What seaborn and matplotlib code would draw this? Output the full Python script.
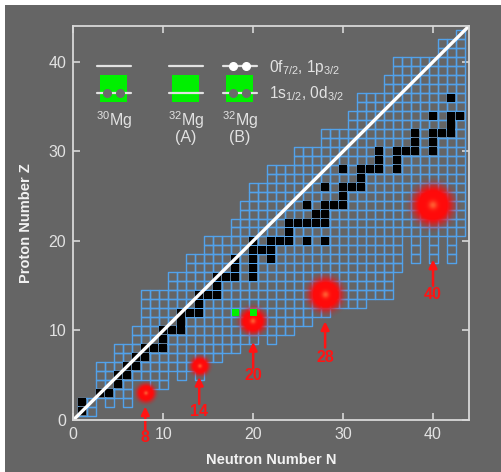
import numpy as np
import matplotlib
matplotlib.use("Agg")
import matplotlib.pyplot as plt
import seaborn as sns
from matplotlib.patches import Rectangle
from matplotlib.collections import PatchCollection

# first neutron number of the known-nuclei band, for Z = 1..43
z_rows = list(range(1, 44))
n_first = [1, 1, 3, 3, 3, 3, 5, 5, 7, 7,
           8, 8, 8, 8, 11, 11, 13, 13, 15, 15,
           18, 18, 19, 19, 20, 20, 22, 22, 25, 25,
           28, 28, 31, 31, 32, 32, 35, 35, 36, 36,
           41, 41, 43]

# lowest proton number in each neutron column, for N = 1..43
n_cols = list(range(1, 44))
z_lowest = [1, 1, 3, 2, 3, 2, 5, 5, 4, 4,
            6, 5, 6, 5, 7, 7, 8, 8, 9, 9,
            10, 9, 10, 10, 11, 11, 12, 12, 13, 13,
            13, 13, 14, 14, 14, 17, 21, 18, 21, 18,
            21, 18, 21]

# stable nuclei (black)
stable_n = [1, 1, 3, 4, 5, 5, 6, 6, 7, 7, 8, 8, 9, 10, 10, 10, 11, 12, 12,
            12, 13, 14, 14, 14, 15, 16, 16, 16, 17, 18, 20, 18, 20, 18, 20, 22,
            20, 21, 22, 20, 22, 23, 24, 26, 28, 24, 24, 25, 26, 27, 28, 27, 28,
            26, 28, 29, 30, 30, 28, 30, 31, 32, 32, 30, 32, 33, 34, 36, 34, 36,
            34, 36, 37, 38, 40, 38, 40, 38, 40, 41, 42, 42, 40, 42, 43, 42]
stable_z = [1, 2, 3, 3, 4, 5, 5, 6, 6, 7, 7, 8, 8, 8, 9, 10, 10, 10, 11,
            12, 12, 12, 13, 14, 14, 14, 15, 16, 16, 16, 16, 17, 17, 18, 18, 18,
            19, 19, 19, 20, 20, 20, 20, 20, 20, 21, 22, 22, 22, 22, 22, 23, 23,
            24, 24, 24, 24, 25, 26, 26, 26, 26, 27, 28, 28, 28, 28, 28, 29, 29,
            30, 30, 30, 30, 30, 31, 31, 32, 32, 32, 32, 33, 34, 34, 34, 36]

# magnesium isotopes 30Mg and 32Mg (green)
mg_n = [18, 20]
mg_z = [12, 12]

# magic neutron numbers with their glow spots
magic = ["8", "14", "20", "28", "40"]
glow_n = [8, 14, 20, 28, 40]
glow_z = [3, 6, 11, 14, 24]
glow_r = [1.4, 1.4, 2.0, 2.6, 3.1]
arrow_tail = [-1.1, 1.8, 5.8, 8.1, 15.0]
arrow_tip = [1.5, 4.8, 8.7, 11.0, 17.9]
label_z = [-1.9, 1.0, 5.0, 7.0, 14.0]

BG = "#656565"
BLUE = "#52a2ea"
LIGHT = "#e2e2e2"
RED = "#ff1414"

sns.set_theme(style="dark")
plt.rcParams["font.family"] = ["Liberation Sans", "DejaVu Sans"]
plt.rcParams["mathtext.fontset"] = "custom"
plt.rcParams["mathtext.rm"] = "Liberation Sans"

fig = plt.figure(figsize=(5.02, 4.72), dpi=100, facecolor="white")
fig.patches.append(Rectangle((5 / 502, 0), 1, 1 - 5 / 472, transform=fig.transFigure,
                             facecolor=BG, edgecolor="none", zorder=-10))
ax = fig.add_axes([73.3 / 502, 1 - 420 / 472, (469 - 73.3) / 502, (420 - 26) / 472])
ax.set_facecolor(BG)

# known nuclei grid
cells = []
for n, zlo in zip(n_cols, z_lowest):
    for z, nf in zip(z_rows, n_first):
        if z >= zlo and n >= nf:
            cells.append(Rectangle((n - 0.5, z - 0.5), 1, 1))
ax.add_collection(PatchCollection(cells, facecolor="none", edgecolor=BLUE,
                                  linewidth=1.0, zorder=2))

black = [Rectangle((n - 0.45, z - 0.45), 0.9, 0.9) for n, z in zip(stable_n, stable_z)]
ax.add_collection(PatchCollection(black, facecolor="black", edgecolor="none", zorder=3))

green = [Rectangle((n - 0.4, z - 0.4), 0.8, 0.8) for n, z in zip(mg_n, mg_z)]
ax.add_collection(PatchCollection(green, facecolor="#00f000", edgecolor="none", zorder=6))

# N = Z line
sns.lineplot(x=[0, 44], y=[0, 44], color="white", linewidth=2.4, ax=ax, zorder=4)

# glowing spots
g = np.linspace(-1, 1, 121)
gx, gy = np.meshgrid(g, g)
rr = np.sqrt(gx ** 2 + gy ** 2)
rgba = np.zeros((121, 121, 4))
rgba[..., 0] = 1.0
rgba[..., 1] = 0.04 + 0.32 * np.exp(-(rr / 0.15) ** 2)
rgba[..., 2] = 0.04 + 0.15 * np.exp(-(rr / 0.15) ** 2)
rgba[..., 3] = np.clip(1.3 * np.exp(-(rr / 0.72) ** 4), 0, 1) * (rr <= 1)
for n, z, r in zip(glow_n, glow_z, glow_r):
    ax.imshow(rgba, extent=[n - r, n + r, z - r, z + r], zorder=5,
              interpolation="bilinear", aspect="auto")

for lab, n, t0, t1, lz in zip(magic, glow_n, arrow_tail, arrow_tip, label_z):
    ax.annotate("", xy=(n, t1), xytext=(n, t0), annotation_clip=False, zorder=6,
                arrowprops=dict(arrowstyle="-|>", color=RED, lw=1.8,
                                mutation_scale=12, shrinkA=0, shrinkB=0))
    ax.text(n, lz, lab, color=RED, fontsize=11.5, fontweight="bold",
            ha="center", va="center", clip_on=False, zorder=6)

# level scheme legend
lw = 1.6
for x0, dots_up, dots_low in [(3.0, False, True), (11.0, False, False), (17.0, True, True)]:
    ax.add_patch(Rectangle((x0, 35.5), 3.0, 3.0, facecolor="#00f000",
                           edgecolor="none", zorder=6))
    ax.plot([x0 - 0.4, x0 + 3.4], [39.5, 39.5], color=LIGHT, lw=lw, zorder=7)
    ax.plot([x0 - 0.4, x0 + 3.4], [36.5, 36.5], color=LIGHT, lw=lw, zorder=7)
    if dots_up:
        ax.plot([x0 + 0.8, x0 + 2.2], [39.5, 39.5], "o", color="white", ms=5.5, zorder=8)
    if dots_low:
        ax.plot([x0 + 0.8, x0 + 2.2], [36.5, 36.5], "o", color="#6a6a6a", ms=5.5, zorder=8)

fs = 11.5
ax.text(3.0 + 1.5, 33.5, r"$^\mathregular{30}$Mg", color=LIGHT, fontsize=fs,
        ha="center", va="center", zorder=8)
ax.text(11.0 + 1.5, 33.5, r"$^\mathregular{32}$Mg", color=LIGHT, fontsize=fs,
        ha="center", va="center", zorder=8)
ax.text(11.0 + 1.5, 31.5, "(A)", color=LIGHT, fontsize=fs, ha="center", va="center", zorder=8)
ax.text(17.0 + 1.5, 33.5, r"$^\mathregular{32}$Mg", color=LIGHT, fontsize=fs,
        ha="center", va="center", zorder=8)
ax.text(17.0 + 1.5, 31.5, "(B)", color=LIGHT, fontsize=fs, ha="center", va="center", zorder=8)
ax.text(21.8, 39.4, r"0f$_\mathregular{7/2}$, 1p$_\mathregular{3/2}$", color=LIGHT,
        fontsize=11.2, ha="left", va="center", zorder=8)
ax.text(21.8, 36.4, r"1s$_\mathregular{1/2}$, 0d$_\mathregular{3/2}$", color=LIGHT,
        fontsize=11.2, ha="left", va="center", zorder=8)

# axes styling
ax.set_xlim(0, 44)
ax.set_ylim(0, 44)
ax.set_xticks([0, 10, 20, 30, 40])
ax.set_yticks([0, 10, 20, 30, 40])
ax.grid(False)
for s in ax.spines.values():
    s.set_visible(True)
    s.set_color("#d8d8d8")
    s.set_linewidth(1.3)
    s.set_zorder(9)
ax.tick_params(direction="in", length=5, width=1.2, color="#d8d8d8",
               top=True, right=True, bottom=True, left=True,
               labelcolor=LIGHT, labelsize=11.5, pad=5)
ax.set_xlabel("Neutron Number N", color="#f2f2f2", fontsize=10.5, fontweight="bold", labelpad=8)
ax.set_ylabel("Proton Number Z", color="#f2f2f2", fontsize=10.5, fontweight="bold", labelpad=11)

fig.savefig("out.png", dpi=100, facecolor=fig.get_facecolor())
